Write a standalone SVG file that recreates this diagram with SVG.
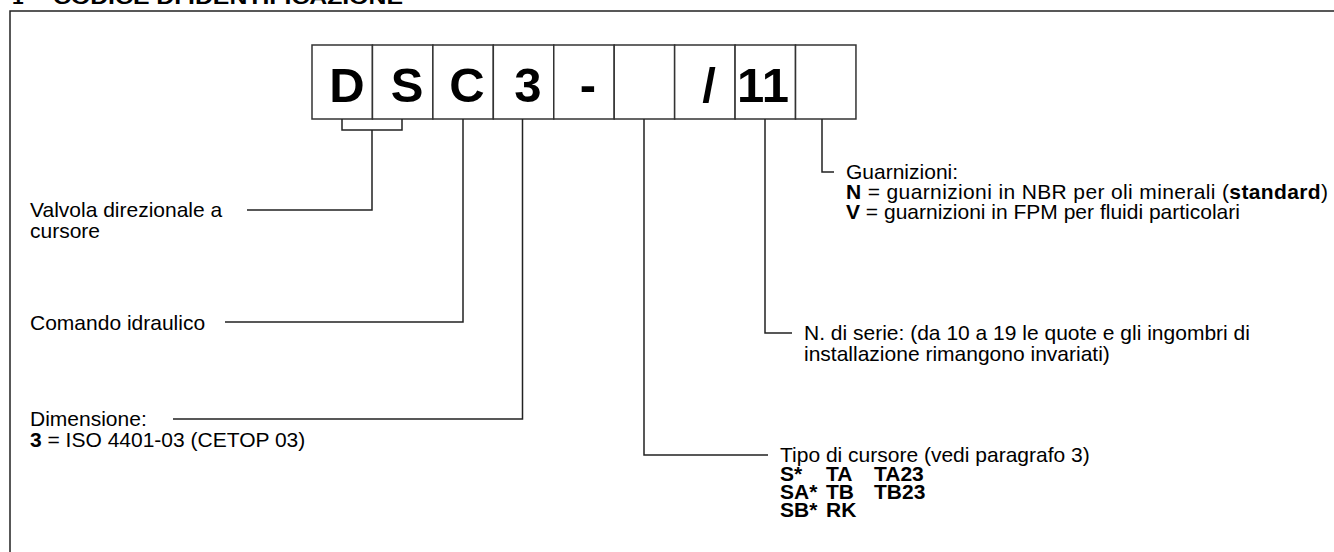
<svg xmlns="http://www.w3.org/2000/svg" width="1334" height="552" viewBox="0 0 1334 552">
<style>
.t{font-family:"Liberation Sans",Arial,sans-serif;font-size:21px;fill:#000}
.b{font-weight:bold}
.big{font-family:"Liberation Sans",Arial,sans-serif;font-size:49px;font-weight:bold;text-anchor:middle;fill:#000}
.box{fill:#fff;stroke:#333;stroke-width:1.5}
.ln{fill:none;stroke:#222;stroke-width:1.5}
</style>
<rect width="1334" height="552" fill="#fff"/>
<g id="title">
<text class="t b" x="12" y="4" font-size="24">1</text>
<text class="t b" x="32" y="4" font-size="24">-</text>
<text class="t b" x="53" y="4" font-size="24" textLength="350" lengthAdjust="spacingAndGlyphs">CODICE DI IDENTIFICAZIONE</text>
</g>
<rect x="10" y="11" width="1340" height="560" fill="none" stroke="#222" stroke-width="1.5"/>
<g id="code">
<rect class="box" x="312" y="45" width="60.44" height="74"/>
<rect class="box" x="372.44" y="45" width="60.44" height="74"/>
<rect class="box" x="432.88" y="45" width="60.44" height="74"/>
<rect class="box" x="493.32" y="45" width="60.44" height="74"/>
<rect class="box" x="553.76" y="45" width="60.44" height="74"/>
<rect class="box" x="614.2" y="45" width="60.44" height="74"/>
<rect class="box" x="674.64" y="45" width="60.44" height="74"/>
<rect class="box" x="735.08" y="45" width="60.44" height="74"/>
<rect class="box" x="795.52" y="45" width="60.44" height="74"/>
<text class="big" x="347" y="102">D</text>
<text class="big" x="407" y="102">S</text>
<text class="big" x="467" y="102">C</text>
<text class="big" x="528" y="102">3</text>
<text class="big" x="588" y="102">-</text>
<text class="big" x="709" y="102">/</text>
<text class="big" x="763" y="102">11</text>
</g>
<g id="connectors">
<path class="ln" d="M342 119V130H402V119M372 130V210H247"/>
<path class="ln" d="M463 119V322H225"/>
<path class="ln" d="M522.5 119V419H173"/>
<path class="ln" d="M644 119V455H768"/>
<path class="ln" d="M765 119V333H792"/>
<path class="ln" d="M822 119V172H834"/>
</g>
<g id="n-valvola">
<text class="t" x="30" y="217">Valvola direzionale a</text>
<text class="t" x="30" y="238">cursore</text>
</g>
<g id="n-comando">
<text class="t" x="30" y="330">Comando idraulico</text>
</g>
<g id="n-dimensione">
<text class="t" x="30" y="426">Dimensione:</text>
<text class="t" x="30" y="447"><tspan class="b">3</tspan> = ISO 4401-03 (CETOP 03)</text>
</g>
<g id="n-guarnizioni">
<text class="t" x="846" y="179">Guarnizioni:</text>
<text class="t" x="846" y="199" textLength="482"><tspan class="b">N</tspan> = guarnizioni in NBR per oli minerali (<tspan class="b">standard</tspan>)</text>
<text class="t" x="846" y="219"><tspan class="b">V</tspan> = guarnizioni in FPM per fluidi particolari</text>
</g>
<g id="n-serie">
<text class="t" x="804" y="340">N. di serie: (da 10 a 19 le quote e gli ingombri di</text>
<text class="t" x="804" y="361">installazione rimangono invariati)</text>
</g>
<g id="n-tipo">
<text class="t" x="780" y="462">Tipo di cursore (vedi paragrafo 3)</text>
<text class="t b" x="780" y="481">S*</text><text class="t b" x="826" y="481">TA</text><text class="t b" x="874" y="481">TA23</text>
<text class="t b" x="780" y="499">SA*</text><text class="t b" x="826" y="499">TB</text><text class="t b" x="874" y="499">TB23</text>
<text class="t b" x="780" y="517">SB*</text><text class="t b" x="826" y="517">RK</text>
</g>
</svg>
